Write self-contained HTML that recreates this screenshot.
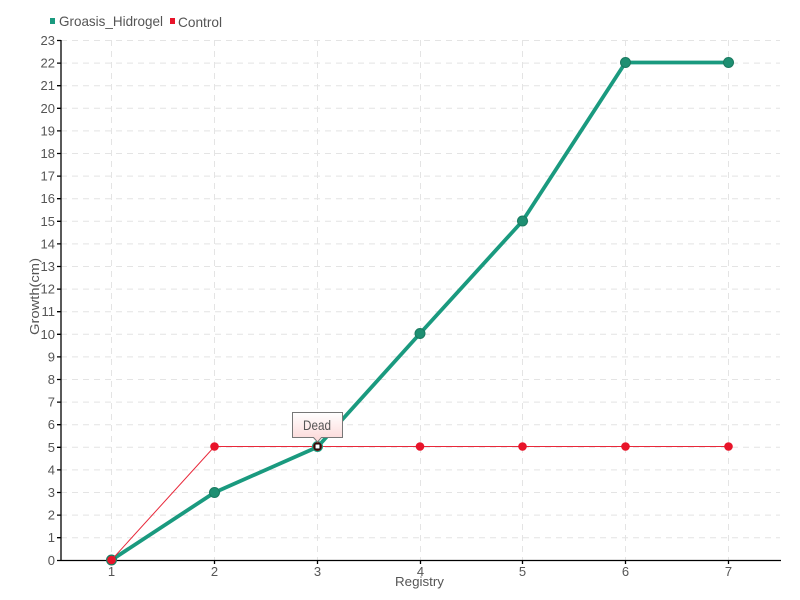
<!DOCTYPE html>
<html><head><meta charset="utf-8"><style>
html,body{margin:0;padding:0;background:#fff;}
svg{display:block;font-family:"Liberation Sans",sans-serif;}
</style></head><body>
<svg width="800" height="600" viewBox="0 0 800 600" xmlns="http://www.w3.org/2000/svg">
<rect width="800" height="600" fill="#fff"/>
<g stroke="#e4e4e4" stroke-width="1" stroke-dasharray="6,5" fill="none">
<path d="M61 40.5H780M61 63.1H780M61 85.7H780M61 108.3H780M61 130.9H780M61 153.5H780M61 176.1H780M61 198.7H780M61 221.3H780M61 243.9H780M61 266.5H780M61 289.1H780M61 311.7H780M61 334.3H780M61 356.9H780M61 379.5H780M61 402.1H780M61 424.7H780M61 447.3H780M61 469.9H780M61 492.5H780M61 515.1H780M61 537.7H780"/>
<path d="M111.5 40V560M214.5 40V560M317.5 40V560M420.5 40V560M522.5 40V560M625.5 40V560M728.5 40V560"/>
</g>
<g stroke="#000" stroke-width="1.3" fill="none">
<path d="M61 40V560.5"/>
<path d="M61 560.5H781"/>
<path d="M57 40.5H61M57 63.1H61M57 85.7H61M57 108.3H61M57 130.9H61M57 153.5H61M57 176.1H61M57 198.7H61M57 221.3H61M57 243.9H61M57 266.5H61M57 289.1H61M57 311.7H61M57 334.3H61M57 356.9H61M57 379.5H61M57 402.1H61M57 424.7H61M57 447.3H61M57 469.9H61M57 492.5H61M57 515.1H61M57 537.7H61M57 560.5H61"/>
<path d="M111.5 560V564M214.5 560V564M317.5 560V564M420.5 560V564M522.5 560V564M625.5 560V564M728.5 560V564"/>
</g>
<g fill="#555" font-size="13" text-anchor="end">
<text x="55" y="45">23</text><text x="55" y="67.6">22</text><text x="55" y="90.2">21</text><text x="55" y="112.8">20</text><text x="55" y="135.4">19</text><text x="55" y="158">18</text><text x="55" y="180.6">17</text><text x="55" y="203.2">16</text><text x="55" y="225.8">15</text><text x="55" y="248.4">14</text><text x="55" y="271">13</text><text x="55" y="293.6">12</text><text x="55" y="316.2">11</text><text x="55" y="338.8">10</text><text x="55" y="361.4">9</text><text x="55" y="384">8</text><text x="55" y="406.6">7</text><text x="55" y="429.2">6</text><text x="55" y="451.8">5</text><text x="55" y="474.4">4</text><text x="55" y="497">3</text><text x="55" y="519.6">2</text><text x="55" y="542.2">1</text><text x="55" y="565">0</text>
</g>
<g fill="#555" font-size="13" text-anchor="middle">
<text x="111.5" y="576">1</text><text x="214.5" y="576">2</text><text x="317.5" y="576">3</text><text x="420.5" y="576">4</text><text x="522.5" y="576">5</text><text x="625.5" y="576">6</text><text x="728.5" y="576">7</text>
</g>
<g fill="#555" font-size="13">
<text x="395" y="586" textLength="49" lengthAdjust="spacingAndGlyphs">Registry</text>
<text transform="translate(39,335) rotate(-90)" textLength="77" lengthAdjust="spacingAndGlyphs">Growth(cm)</text>
</g>
<!-- legend -->
<rect x="50" y="18" width="5" height="6" fill="#1a9a7f"/>
<text x="59" y="26" font-size="14" fill="#555" textLength="104" lengthAdjust="spacingAndGlyphs">Groasis_Hidrogel</text>
<rect x="170" y="18" width="5" height="6" fill="#e8142a"/>
<text x="178" y="27" font-size="14" fill="#555" textLength="44" lengthAdjust="spacingAndGlyphs">Control</text>
<!-- green series -->
<polyline points="111.5,560 214.5,492.5 317.5,447 420,333.5 522.5,221 625.5,62.5 728.5,62.5" fill="none" stroke="#1a9a7f" stroke-width="3.8" stroke-linejoin="round"/>
<g fill="#1e8f72" stroke="#1a7a60" stroke-width="1">
<circle cx="111.5" cy="560" r="5"/><circle cx="214.5" cy="492.5" r="5"/><circle cx="420" cy="333.5" r="5"/><circle cx="522.5" cy="221" r="5"/><circle cx="625.5" cy="62.5" r="5"/><circle cx="728.5" cy="62.5" r="5"/>
</g>
<!-- red series -->
<polyline points="111.5,560 214.5,446.5 317.5,446.5 420,446.5 522.5,446.5 625.5,446.5 728.5,446.5" fill="none" stroke="#e8283a" stroke-width="1"/>
<g fill="#e8142a">
<circle cx="111.5" cy="560" r="4.3"/><circle cx="214.5" cy="446.5" r="4.3"/><circle cx="420" cy="446.5" r="4.3"/><circle cx="522.5" cy="446.5" r="4.3"/><circle cx="625.5" cy="446.5" r="4.3"/><circle cx="728.5" cy="446.5" r="4.3"/>
</g>
<circle cx="317.5" cy="446.5" r="5" fill="#6a1010" stroke="#1a9a7f" stroke-width="1"/>
<rect x="315" y="444" width="5" height="5" fill="#fff" stroke="#000" stroke-width="1"/>
<!-- tooltip -->
<defs><linearGradient id="tg" x1="0" y1="0" x2="0" y2="1"><stop offset="0" stop-color="#ffffff"/><stop offset="1" stop-color="#fcd6d6"/></linearGradient></defs>
<path d="M292.5 412.5H342.5V437.5H321.5L317.5 442L313.5 437.5H292.5Z" fill="url(#tg)" stroke="#777" stroke-width="1"/>
<text x="303" y="430" font-size="14" fill="#555" textLength="28" lengthAdjust="spacingAndGlyphs">Dead</text>
</svg>
</body></html>
